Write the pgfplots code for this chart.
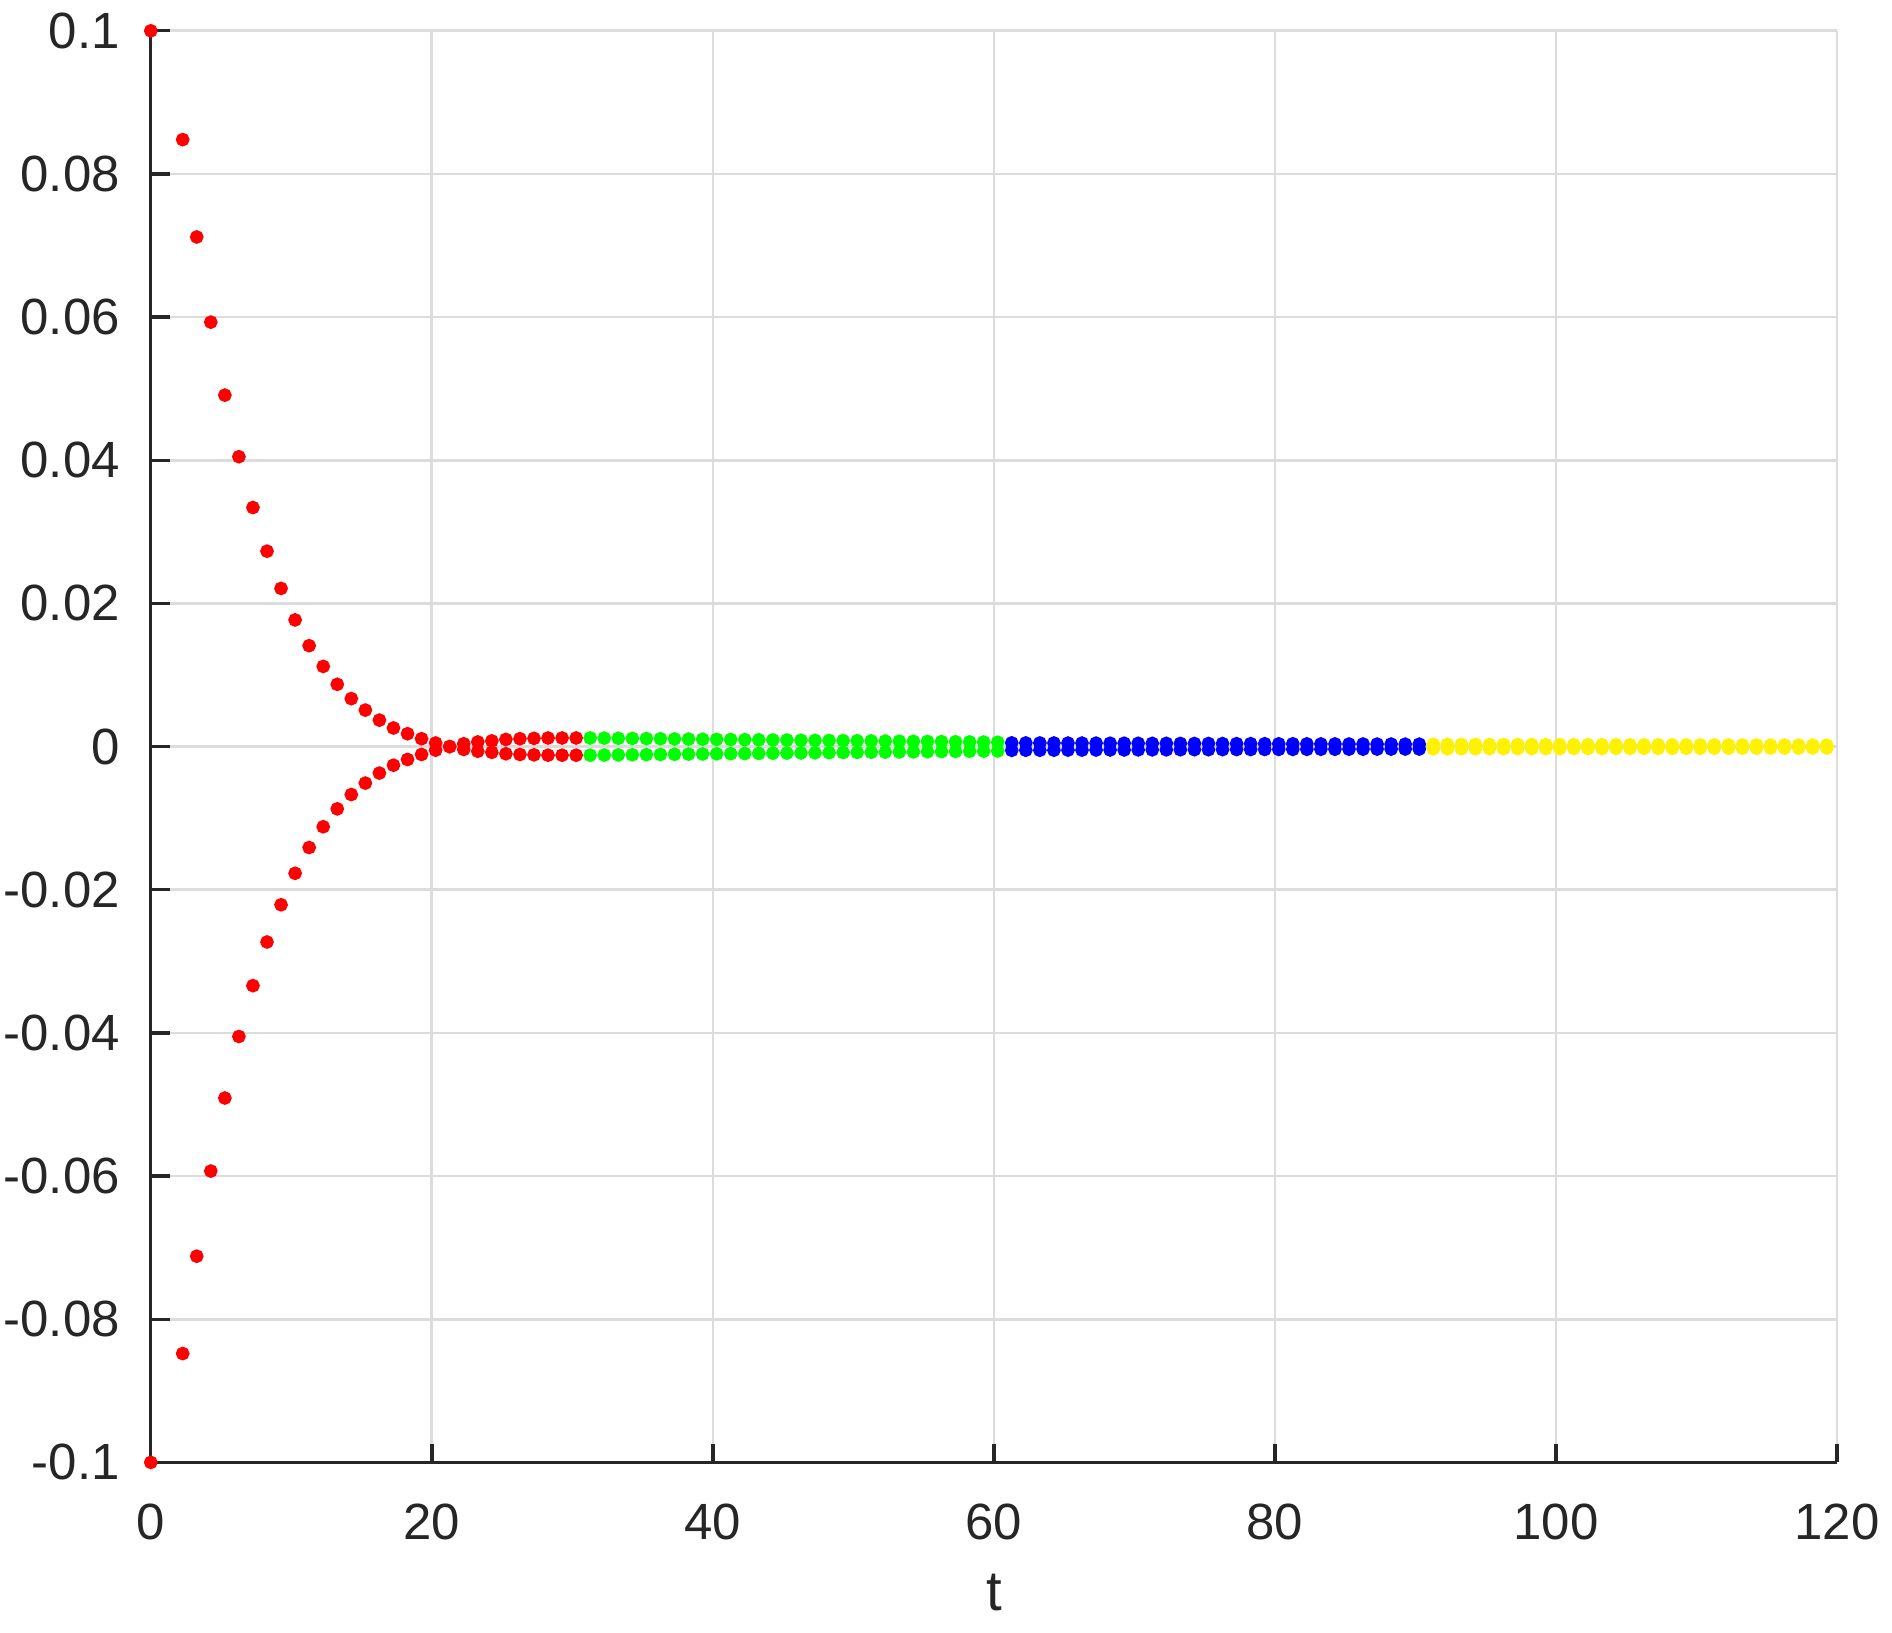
\documentclass[border=0pt]{standalone}
\usepackage{pgfplots}
\pgfplotsset{compat=1.18}
\usepackage{pgfplotstable}
\usepackage{fontspec}
\setmainfont{Liberation Sans}
\definecolor{axisgray}{HTML}{262626}
\definecolor{gridgray}{HTML}{DCDCDC}

% two mirrored branches per colour segment
\pgfplotstableread{
t up lo
0 0.1 -0.1
2.27 0.0848 -0.0848
3.27 0.0712 -0.0712
4.27 0.0593 -0.0593
5.27 0.0491 -0.0491
6.27 0.0405 -0.0405
7.27 0.0334 -0.0334
8.27 0.0273 -0.0273
9.27 0.0221 -0.0221
10.27 0.0177 -0.0177
11.27 0.0141 -0.0141
12.27 0.0112 -0.0112
13.27 0.0087 -0.0087
14.27 0.0067 -0.0067
15.27 0.0051 -0.0051
16.27 0.0037 -0.0037
17.27 0.0026 -0.0026
18.27 0.0018 -0.0018
19.27 0.0011 -0.0011
20.27 0.0005 -0.0005
21.27 0.0000 0.0000
22.27 -0.0004 0.0004
23.27 -0.00065 0.00065
24.27 -0.0008 0.0008
25.27 -0.0010 0.0010
26.27 -0.0011 0.0011
27.27 -0.00115 0.00115
28.27 -0.0012 0.0012
29.27 -0.0012 0.0012
30.27 -0.0012 0.0012
}\segred

\pgfplotstableread{
t up lo
31.27 -0.00120 0.00120
32.27 -0.00118 0.00118
33.27 -0.00116 0.00116
34.27 -0.00114 0.00114
35.27 -0.00112 0.00112
36.27 -0.00110 0.00110
37.27 -0.00107 0.00107
38.27 -0.00105 0.00105
39.27 -0.00103 0.00103
40.27 -0.00101 0.00101
41.27 -0.00099 0.00099
42.27 -0.00097 0.00097
43.27 -0.00095 0.00095
44.27 -0.00093 0.00093
45.27 -0.00091 0.00091
46.27 -0.00089 0.00089
47.27 -0.00087 0.00087
48.27 -0.00085 0.00085
49.27 -0.00083 0.00083
50.27 -0.00081 0.00081
51.27 -0.00079 0.00079
52.27 -0.00077 0.00077
53.27 -0.00075 0.00075
54.27 -0.00073 0.00073
55.27 -0.00071 0.00071
56.27 -0.00069 0.00069
57.27 -0.00067 0.00067
58.27 -0.00065 0.00065
59.27 -0.00063 0.00063
60.27 -0.00061 0.00061
}\seggreen

\pgfplotstableread{
t up lo
61.27 -0.00052 0.00052
62.27 -0.00051 0.00051
63.27 -0.00051 0.00051
64.27 -0.00050 0.00050
65.27 -0.00049 0.00049
66.27 -0.00049 0.00049
67.27 -0.00048 0.00048
68.27 -0.00047 0.00047
69.27 -0.00047 0.00047
70.27 -0.00046 0.00046
71.27 -0.00045 0.00045
72.27 -0.00045 0.00045
73.27 -0.00044 0.00044
74.27 -0.00043 0.00043
75.27 -0.00043 0.00043
76.27 -0.00042 0.00042
77.27 -0.00041 0.00041
78.27 -0.00041 0.00041
79.27 -0.00040 0.00040
80.27 -0.00039 0.00039
81.27 -0.00039 0.00039
82.27 -0.00038 0.00038
83.27 -0.00037 0.00037
84.27 -0.00037 0.00037
85.27 -0.00036 0.00036
86.27 -0.00036 0.00036
87.27 -0.00035 0.00035
88.27 -0.00035 0.00035
89.27 -0.00034 0.00034
90.27 -0.00034 0.00034
}\segblue

\pgfplotstableread{
t up lo
91.27 -0.00031 0.00031
92.27 -0.00031 0.00031
93.27 -0.00030 0.00030
94.27 -0.00030 0.00030
95.27 -0.00029 0.00029
96.27 -0.00029 0.00029
97.27 -0.00028 0.00028
98.27 -0.00028 0.00028
99.27 -0.00027 0.00027
100.27 -0.00027 0.00027
101.27 -0.00026 0.00026
102.27 -0.00026 0.00026
103.27 -0.00026 0.00026
104.27 -0.00025 0.00025
105.27 -0.00025 0.00025
106.27 -0.00024 0.00024
107.27 -0.00024 0.00024
108.27 -0.00024 0.00024
109.27 -0.00023 0.00023
110.27 -0.00023 0.00023
111.27 -0.00023 0.00023
112.27 -0.00022 0.00022
113.27 -0.00022 0.00022
114.27 -0.00022 0.00022
115.27 -0.00021 0.00021
116.27 -0.00021 0.00021
117.27 -0.00021 0.00021
118.27 -0.00020 0.00020
119.27 -0.00020 0.00020
}\segyellow

\begin{document}
\begin{tikzpicture}
\useasboundingbox (-22.5pt,-25.4pt) rectangle (259.8pt,218.2pt);
\begin{axis}[
  scale only axis,
  width=251.6pt, height=213.6pt,
  xmin=0, xmax=120, ymin=-0.1, ymax=0.1,
  axis x line*=bottom, axis y line*=left,
  axis line style={axisgray, line width=0.5pt, -},
  tick align=inside, major tick length=2.8pt,
  tick style={axisgray, line width=0.5pt},
  xtick={0,20,40,60,80,100,120},
  xticklabels={0,20,40,60,80,100,120},
  ytick={-0.1,-0.08,-0.06,-0.04,-0.02,0,0.02,0.04,0.06,0.08,0.1},
  yticklabels={-0.1,-0.08,-0.06,-0.04,-0.02,0,0.02,0.04,0.06,0.08,0.1},
  grid=major,
  major grid style={gridgray, line width=0.4pt},
  ticklabel style={font=\fontsize{7.6}{9}\selectfont, text=axisgray},
  xticklabel style={yshift=-2.6pt},
  yticklabel style={xshift=-1.1pt},
  xlabel={t},
  xlabel style={font=\fontsize{8.4}{10}\selectfont, text=axisgray,
    at={(axis description cs:0.5,0)}, anchor=center, yshift=-19.4pt},
  clip=false,
  every axis plot/.append style={only marks, mark=*, mark size=0.82pt},
]
\addplot[red, mark options={draw=red, fill=red}] table[x=t, y=up] {\segred};
\addplot[red, mark options={draw=red, fill=red}] table[x=t, y=lo] {\segred};
\addplot[green, mark options={draw=green, fill=green}] table[x=t, y=up] {\seggreen};
\addplot[green, mark options={draw=green, fill=green}] table[x=t, y=lo] {\seggreen};
\addplot[blue, mark options={draw=blue, fill=blue}] table[x=t, y=up] {\segblue};
\addplot[blue, mark options={draw=blue, fill=blue}] table[x=t, y=lo] {\segblue};
\addplot[yellow, mark options={draw=yellow, fill=yellow}] table[x=t, y=up] {\segyellow};
\addplot[yellow, mark options={draw=yellow, fill=yellow}] table[x=t, y=lo] {\segyellow};
\end{axis}
\end{tikzpicture}
\end{document}
